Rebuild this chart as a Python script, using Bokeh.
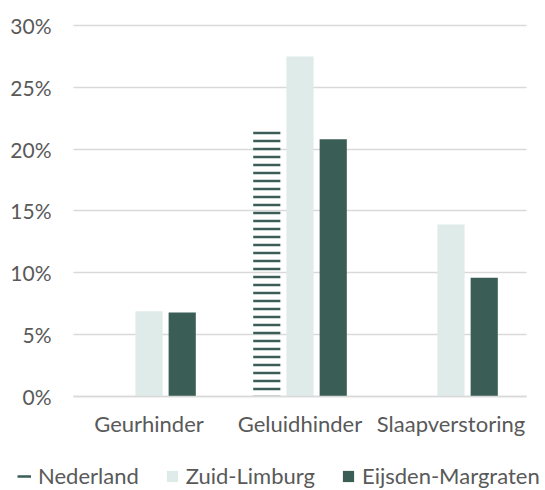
from bokeh.plotting import figure
from bokeh.models import (ColumnDataSource, Range1d, FixedTicker,
                          PrintfTickFormatter, Legend, LegendItem)
from bokeh.transform import dodge
from bokeh.embed import file_html
from bokeh.resources import INLINE

# ---- data ----
categories = ["Geurhinder", "Geluidhinder", "Slaapverstoring"]
series = ["Nederland", "Zuid-Limburg", "Eijsden-Margraten"]
nederland = [float("nan"), 21.8, float("nan")]
zuid_limburg = [6.9, 27.5, 13.9]
eijsden_margraten = [6.8, 20.8, 9.6]
y_ticks = [0, 5, 10, 15, 20, 25, 30]

# ---- style ----
DARK = "#3a5e56"
LIGHT = "#dfebe8"
TEXT = "#595959"
GRID = "#d9d9d9"
FONT = "Lato"

pos = list(range(len(categories)))
src = ColumnDataSource(dict(x=pos, nl=nederland, zl=zuid_limburg, em=eijsden_margraten))

# frame covers the whole canvas so that the legend below the axis is not clipped
p = figure(x_range=Range1d(-0.9834, 2.6258), y_range=Range1d(-7.60, 32.02),
           width=545, height=490,
           min_border_left=0, min_border_right=0,
           min_border_top=0, min_border_bottom=0,
           output_backend="svg", toolbar_location=None,
           outline_line_color=None, background_fill_color="white",
           border_fill_color="white")

W = 0.18
OFF = 0.22
r_nl = p.vbar(x=dodge("x", -OFF), top="nl", width=W, source=src,
              fill_color=None, line_color=None,
              hatch_pattern="horizontal_line", hatch_scale=8, hatch_weight=2.5,
              hatch_color=DARK)
r_zl = p.vbar(x=dodge("x", 0.0), top="zl", width=W, source=src,
              fill_color=LIGHT, line_color=None)
r_em = p.vbar(x=dodge("x", OFF), top="em", width=W, source=src,
              fill_color=DARK, line_color=None)
# legend swatch for the striped series (a single stripe, as in the original legend);
# with only one non-missing value this line draws nothing in the plot area
r_nl_swatch = p.line(x=dodge("x", -OFF), y="nl", source=src,
                     line_color=DARK, line_width=2.5)

# y axis (drawn at the left edge of the category area)
p.yaxis.fixed_location = -0.5
p.yaxis.bounds = (y_ticks[0], y_ticks[-1])
p.yaxis.ticker = FixedTicker(ticks=y_ticks)
p.yaxis.formatter = PrintfTickFormatter(format="%d%%")
p.yaxis.axis_line_color = None
p.yaxis.major_tick_line_color = None
p.yaxis.minor_tick_line_color = None
p.yaxis.major_label_standoff = 16
p.yaxis.major_label_text_font = FONT
p.yaxis.major_label_text_font_size = "21px"
p.yaxis.major_label_text_color = TEXT

# x axis (drawn at 0%)
p.xaxis.fixed_location = 0
p.xaxis.bounds = (-0.5, len(categories) - 0.5)
p.xaxis.ticker = FixedTicker(ticks=pos)
p.xaxis.major_label_overrides = {i: c for i, c in zip(pos, categories)}
p.xaxis.axis_line_color = GRID
p.xaxis.axis_line_width = 1.5
p.xaxis.major_tick_line_color = None
p.xaxis.minor_tick_line_color = None
p.xaxis.major_label_standoff = 7
p.xaxis.major_label_text_font = FONT
p.xaxis.major_label_text_font_size = "22px"
p.xaxis.major_label_text_color = TEXT

p.xgrid.grid_line_color = None
p.ygrid.ticker = FixedTicker(ticks=y_ticks)
p.ygrid.cross_bounds = (-0.5, len(categories) - 0.5)
p.ygrid.grid_line_color = GRID
p.ygrid.grid_line_width = 1.5

legend = Legend(items=[LegendItem(label=series[0], renderers=[r_nl_swatch]),
                       LegendItem(label=series[1], renderers=[r_zl]),
                       LegendItem(label=series[2], renderers=[r_em])],
                location=(17, 1), orientation="horizontal",
                padding=0, margin=0, spacing=26,
                glyph_width=14, glyph_height=14, label_standoff=7,
                label_text_font=FONT, label_text_font_size="22px",
                label_text_color=TEXT, border_line_color=None,
                background_fill_alpha=0)
p.add_layout(legend, "center")

open("out.html", "w").write(file_html(p, INLINE))
